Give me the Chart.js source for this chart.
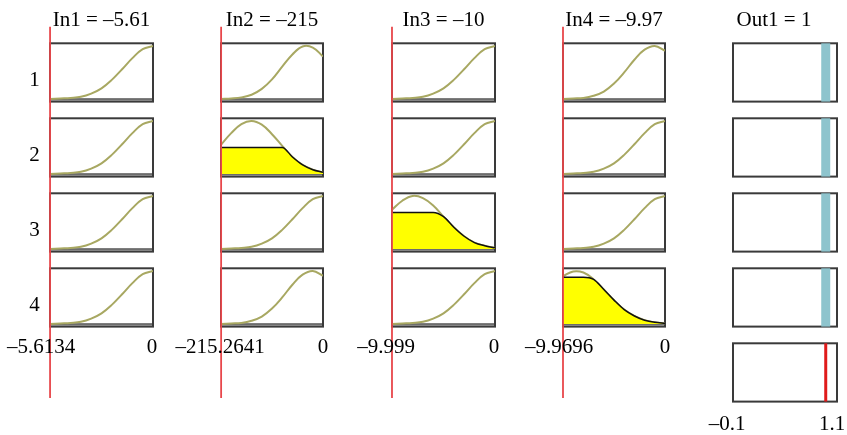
<!DOCTYPE html>
<html>
<head>
<meta charset="utf-8">
<script src="https://cdn.jsdelivr.net/npm/chart.js@4.4.1/dist/chart.umd.min.js"></script>
<style>
body { margin: 0; background: #fff; width: 847px; height: 435px; overflow: hidden; position: relative; }
canvas { position: absolute; top: 0; }
</style>
</head>
<body>
<script>
// where the membership values were read, as a fraction of each input range
var samplePos = [0, 0.1, 0.2, 0.3, 0.4, 0.5, 0.6, 0.7, 0.8, 0.9, 1];

// membership curves
var riseRight = [0, 0.01, 0.02, 0.04, 0.10, 0.20, 0.36, 0.56, 0.77, 0.94, 1.0];
var peak84 = [0, 0.01, 0.03, 0.08, 0.19, 0.37, 0.61, 0.84, 0.99, 0.97, 0.80];
var peak90 = [0, 0.01, 0.02, 0.06, 0.14, 0.29, 0.50, 0.74, 0.93, 1.0, 0.91];
var bump30 = [0.55, 0.77, 0.94, 1.0, 0.93, 0.75, 0.53, 0.32, 0.17, 0.08, 0.03];
var bump22 = [0.74, 0.91, 1.0, 0.96, 0.82, 0.61, 0.41, 0.24, 0.12, 0.06, 0.02];
var bump13 = [0.90, 0.99, 0.97, 0.84, 0.65, 0.45, 0.27, 0.15, 0.07, 0.03, 0.01];

// yellow (fired) parts
var fired2 = [0.50, 0.50, 0.50, 0.50, 0.50, 0.50, 0.50, 0.32, 0.17, 0.08, 0.03];
var fired3 = [0.69, 0.69, 0.69, 0.69, 0.69, 0.61, 0.41, 0.24, 0.12, 0.06, 0.02];
var fired4 = [0.88, 0.88, 0.88, 0.84, 0.65, 0.45, 0.27, 0.15, 0.07, 0.03, 0.01];

var inTitles = ['In1 = \u20135.61', 'In2 = \u2013215', 'In3 = \u201310', 'In4 = \u20139.97'];
var inValues = [-5.61, -215, -10, -9.97];
var inRanges = [[-5.6134, 0], [-215.2641, 0], [-9.999, 0], [-9.9696, 0]];
var inTickLabels = [['\u20135.6134', '0'], ['\u2013215.2641', '0'], ['\u20139.999', '0'], ['\u20139.9696', '0']];
var rowLabels = ['1', '2', '3', '4'];

// rows top to bottom, per input
var ruleShapes = [
  [riseRight, riseRight, riseRight, riseRight],
  [peak84, bump30, riseRight, peak90],
  [riseRight, riseRight, bump22, riseRight],
  [peak90, riseRight, riseRight, bump13]
];
var ruleFired = [
  [null, null, null, null],
  [null, fired2, null, null],
  [null, null, fired3, null],
  [null, null, null, fired4]
];

var outTitle = 'Out1 = 1';
var outRange = [-0.1, 1.1];
var outTickLabels = ['\u20130.1', '1.1'];
var ruleOut = [0.97, 0.97, 0.97, 0.97];
var outValue = 0.97;

// layout
var boxLeft = [50, 221, 392, 563, 733];
var boxW = [103, 102, 103, 102, 104];
var PITCH = 75 / 53;
var YMAX = 4 * PITCH + 1.1;
var FONT = '21px "Liberation Serif", "Times New Roman", serif';
var titleDx = [0, 0, 0, 0, -11];
var tickDx = [[-9, -1], [-1, 0], [-6, -1], [-4, 0], [-6, -5]];

function rowBase(r) { return (4 - r) * PITCH + 0.05; }

function pts(range, vals, r) {
  return vals.map(function (v, i) {
    return { x: range[0] + samplePos[i] * (range[1] - range[0]), y: rowBase(r) + v };
  });
}

function vline(x, y0, y1) {
  return [{ x: x, y: y0 }, { x: x, y: y1 }];
}

function panelPlugin(col, title, range, ticks, tickY, rows, band) {
  return {
    id: 'panels' + col,
    beforeDatasetsDraw: function (chart) {
      var ctx = chart.ctx, a = chart.chartArea, y = chart.scales.y;
      ctx.save();
      rows.forEach(function (r) {
        var b = rowBase(r);
        var t = y.getPixelForValue(b + 1.05), bt = y.getPixelForValue(b - 0.05), z = y.getPixelForValue(b);
        if (band) {
          ctx.fillStyle = '#b8b8b8';
          ctx.fillRect(a.left, z, a.right - a.left, bt - z);
          ctx.strokeStyle = '#555';
          ctx.lineWidth = 1.5;
          ctx.beginPath();
          ctx.moveTo(a.left, z);
          ctx.lineTo(a.right, z);
          ctx.stroke();
        }
        ctx.strokeStyle = '#3a3a3a';
        ctx.lineWidth = 2;
        ctx.strokeRect(a.left, t, a.right - a.left, bt - t);
      });
      ctx.restore();
    },
    afterDraw: function (chart) {
      var ctx = chart.ctx, a = chart.chartArea, x = chart.scales.x, y = chart.scales.y;
      ctx.save();
      ctx.font = FONT;
      ctx.fillStyle = '#000';
      ctx.textAlign = 'center';
      ctx.textBaseline = 'alphabetic';
      ctx.fillText(title, (a.left + a.right) / 2 + titleDx[col], 25.5);
      ctx.fillText(ticks[0], x.getPixelForValue(range[0]) + tickDx[col][0], tickY);
      ctx.fillText(ticks[1], x.getPixelForValue(range[1]) + tickDx[col][1], tickY);
      if (col === 0) {
        rowLabels.forEach(function (lbl, r) {
          var c = (y.getPixelForValue(rowBase(r) + 1.05) + y.getPixelForValue(rowBase(r) - 0.05)) / 2;
          ctx.fillText(lbl, a.left - 15.5, c + 13.5);
        });
      }
      ctx.restore();
    }
  };
}

function makeCanvas(col) {
  var c = document.createElement('canvas');
  c.width = boxW[col] + 100;
  c.height = 435;
  c.style.left = (boxLeft[col] - 50) + 'px';
  document.body.appendChild(c);
  return c;
}

function baseOptions(range) {
  return {
    responsive: false,
    animation: false,
    events: [],
    layout: { padding: { left: 50, right: 50, top: 43.3, bottom: 33.4 } },
    plugins: { legend: { display: false }, tooltip: { enabled: false } },
    scales: {
      x: { type: 'linear', min: range[0], max: range[1], display: false },
      y: { type: 'linear', min: 0, max: YMAX, display: false }
    }
  };
}

// input columns
for (var col = 0; col < 4; col++) {
  var range = inRanges[col];
  var datasets = [];
  datasets.push({
    data: vline(inValues[col], 0.07, YMAX + 0.31),
    borderColor: '#e8474b',
    borderWidth: 1.8,
    pointRadius: 0,
    clip: false,
    order: 0
  });
  for (var r = 0; r < 4; r++) {
    if (ruleFired[col][r]) {
      datasets.push({
        data: pts(range, ruleFired[col][r], r),
        borderColor: '#111',
        borderWidth: 1.5,
        backgroundColor: '#ffff00',
        fill: { value: rowBase(r) },
        pointRadius: 0,
        cubicInterpolationMode: 'monotone',
        order: 1
      });
    }
    datasets.push({
      data: pts(range, ruleShapes[col][r], r),
      borderColor: 'rgb(168,168,98)',
      borderWidth: 2,
      pointRadius: 0,
      tension: 0.4,
      fill: false,
      order: 2
    });
  }
  new Chart(makeCanvas(col), {
    type: 'line',
    data: { datasets: datasets },
    options: baseOptions(range),
    plugins: [panelPlugin(col, inTitles[col], range, inTickLabels[col], 353, [0, 1, 2, 3], true)]
  });
}

// output column
var outSets = [];
ruleOut.forEach(function (v, r) {
  outSets.push({
    data: vline(v, rowBase(r) - 0.05, rowBase(r) + 1.05),
    borderColor: 'rgb(142,196,205)',
    borderWidth: 9,
    borderCapStyle: 'butt',
    pointRadius: 0,
    clip: false
  });
});
outSets.push({
  data: vline(outValue, rowBase(4) - 0.05, rowBase(4) + 1.05),
  borderColor: '#e01b1b',
  borderWidth: 3,
  borderCapStyle: 'butt',
  pointRadius: 0,
  clip: false
});
new Chart(makeCanvas(4), {
  type: 'line',
  data: { datasets: outSets },
  options: baseOptions(outRange),
  plugins: [panelPlugin(4, outTitle, outRange, outTickLabels, 430, [0, 1, 2, 3, 4], false)]
});
</script>
</body>
</html>
